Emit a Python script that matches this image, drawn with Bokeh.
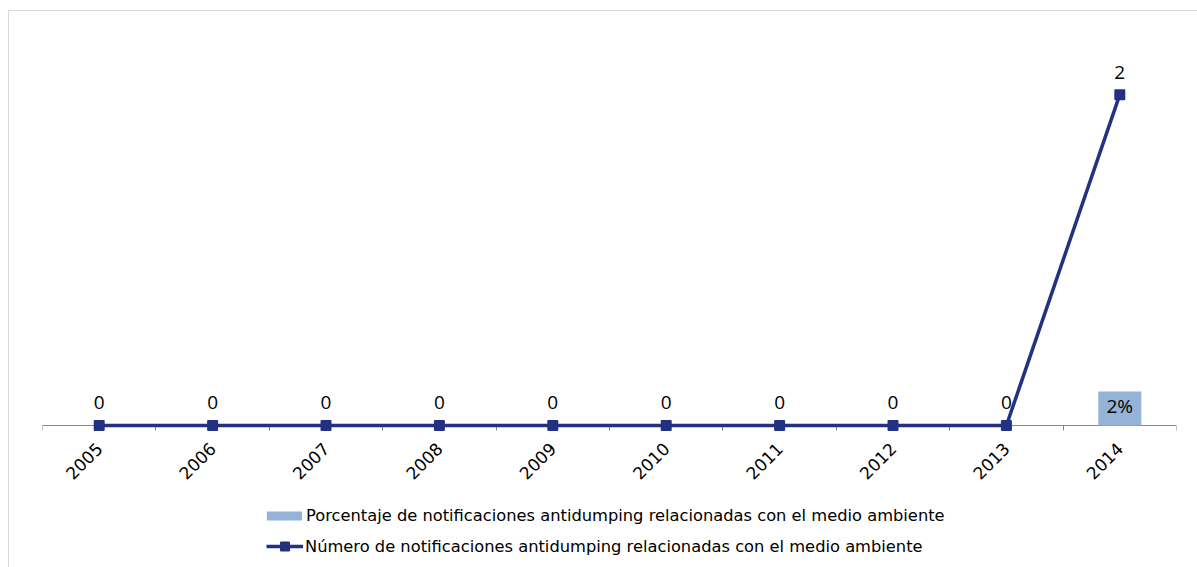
from bokeh.plotting import figure
from bokeh.layouts import column
from bokeh.models import (Range1d, LinearAxis, FixedTicker, ColumnDataSource, LabelSet,
                          Legend, LegendItem)
from bokeh.embed import file_html
from bokeh.resources import INLINE
from bokeh.core.properties import value

years = [2005, 2006, 2007, 2008, 2009, 2010, 2011, 2012, 2013, 2014]
counts = [0, 0, 0, 0, 0, 0, 0, 0, 0, 2]
pct_years = [2014]
pct_values = [0.02]
pct_labels = ["2%"]
count_labels = [str(c) for c in counts]
year_labels = [str(y) for y in years]
bar_name = "Porcentaje de notificaciones antidumping relacionadas con el medio ambiente"
line_name = "Número de notificaciones antidumping relacionadas con el medio ambiente"

NAVY = "#233182"
BAR = "#95B3D7"
AXIS = "#898989"

p = figure(width=1188, height=480, output_backend="svg", toolbar_location=None,
           x_range=Range1d(2004.5, 2014.5), y_range=Range1d(-0.0363, 2.4),
           min_border_left=33, min_border_right=21, min_border_top=17, min_border_bottom=60)
p.outline_line_color = None
p.grid.visible = False
p.yaxis.visible = False
p.xaxis.visible = False
p.extra_y_ranges = {"pct": Range1d(-0.00353, 0.2335)}

# year labels, in the panel under the plot area
lab_ax = LinearAxis(ticker=FixedTicker(ticks=years, minor_ticks=[]),
                    major_label_overrides={y: s for y, s in zip(years, year_labels)})
lab_ax.axis_line_color = None
lab_ax.major_tick_line_color = None
lab_ax.major_tick_out = 0
lab_ax.major_tick_in = 0
lab_ax.minor_tick_line_color = None
lab_ax.minor_tick_out = 0
lab_ax.minor_tick_in = 0
lab_ax.major_label_orientation = 0.785398
lab_ax.major_label_text_font = "DejaVu Sans"
lab_ax.major_label_text_font_size = "17px"
lab_ax.major_label_text_color = "#000000"
lab_ax.major_label_standoff = 14
p.add_layout(lab_ax, "below")

# axis line with tick marks between categories, drawn at value 0
line_ax = LinearAxis(ticker=FixedTicker(ticks=[], minor_ticks=[y - 0.5 for y in years] + [years[-1] + 0.5]),
                     fixed_location=0, level="underlay")
line_ax.axis_line_color = AXIS
line_ax.major_tick_line_color = None
line_ax.major_tick_out = 0
line_ax.major_tick_in = 0
line_ax.minor_tick_line_color = AXIS
line_ax.minor_tick_out = 5
line_ax.minor_tick_in = 0
line_ax.major_label_text_font_size = "0px"
line_ax.major_label_standoff = 0
p.add_layout(line_ax, "below")

bsrc = ColumnDataSource(dict(x=pct_years, y=pct_values, lab=pct_labels))
bars = p.vbar(x="x", top="y", bottom=0, width=0.38, source=bsrc, y_range_name="pct",
              fill_color=BAR, line_color=None)
p.add_layout(LabelSet(x="x", y="y", text="lab", source=bsrc, y_range_name="pct",
                      text_align="center", text_baseline="top", y_offset=-2,
                      text_font=value("Open Sans"), text_font_size="19px", text_color="#000000"))

lsrc = ColumnDataSource(dict(x=years, y=counts, lab=count_labels))
ln = p.line(x="x", y="y", source=lsrc, line_color=NAVY, line_width=3.5)
sc = p.scatter(x="x", y="y", source=lsrc, marker="square", size=9, fill_color=NAVY,
               line_color=NAVY, line_width=2, line_join="round")
p.add_layout(LabelSet(x="x", y="y", text="lab", source=lsrc, text_align="center",
                      text_baseline="bottom", y_offset=16,
                      text_font=value("Open Sans"), text_font_size="19px", text_color="#000000"))

# legend strip below the chart (hidden copies of the series supply the legend glyphs)
lp = figure(width=1188, height=76, output_backend="svg", toolbar_location=None,
            x_range=Range1d(2004.5, 2014.5), y_range=Range1d(0, 2.4),
            x_axis_location=None, y_axis_location=None,
            min_border_left=33, min_border_right=21, min_border_top=0, min_border_bottom=0)
lp.outline_line_color = None
lp.grid.visible = False
lbar = lp.vbar(x="x", top="y", width=0.38, source=bsrc, fill_color=BAR, line_color=None, visible=False)
lln = lp.line(x="x", y="y", source=lsrc, line_color=NAVY, line_width=3.5, visible=False)
lsc = lp.scatter(x="x", y="y", source=lsrc, marker="square", size=9, fill_color=NAVY,
                 line_color=NAVY, line_width=2, line_join="round", visible=False)

leg1 = Legend(items=[LegendItem(label=bar_name, renderers=[lbar])],
              location=(220, 42), glyph_width=44, glyph_height=11, label_height=20,
              label_standoff=0, padding=0, margin=0, border_line_color=None,
              background_fill_alpha=0, label_text_font="DejaVu Sans", label_text_font_size="16.3px",
              label_text_color="#000000")
leg2 = Legend(items=[LegendItem(label=line_name, renderers=[lln, lsc])],
              location=(224, 11), glyph_width=37, glyph_height=20, label_height=20,
              label_standoff=2, padding=0, margin=0, border_line_color=None,
              background_fill_alpha=0, label_text_font="DejaVu Sans", label_text_font_size="16.3px",
              label_text_color="#000000")
lp.add_layout(leg1, "center")
lp.add_layout(leg2, "center")

layout = column(p, lp, spacing=0,
                styles={"margin-left": "8px", "margin-top": "10px",
                        "border-left": "1px solid #D9D9D9", "border-top": "1px solid #D9D9D9"})

open("out.html", "w").write(file_html(layout, INLINE))
